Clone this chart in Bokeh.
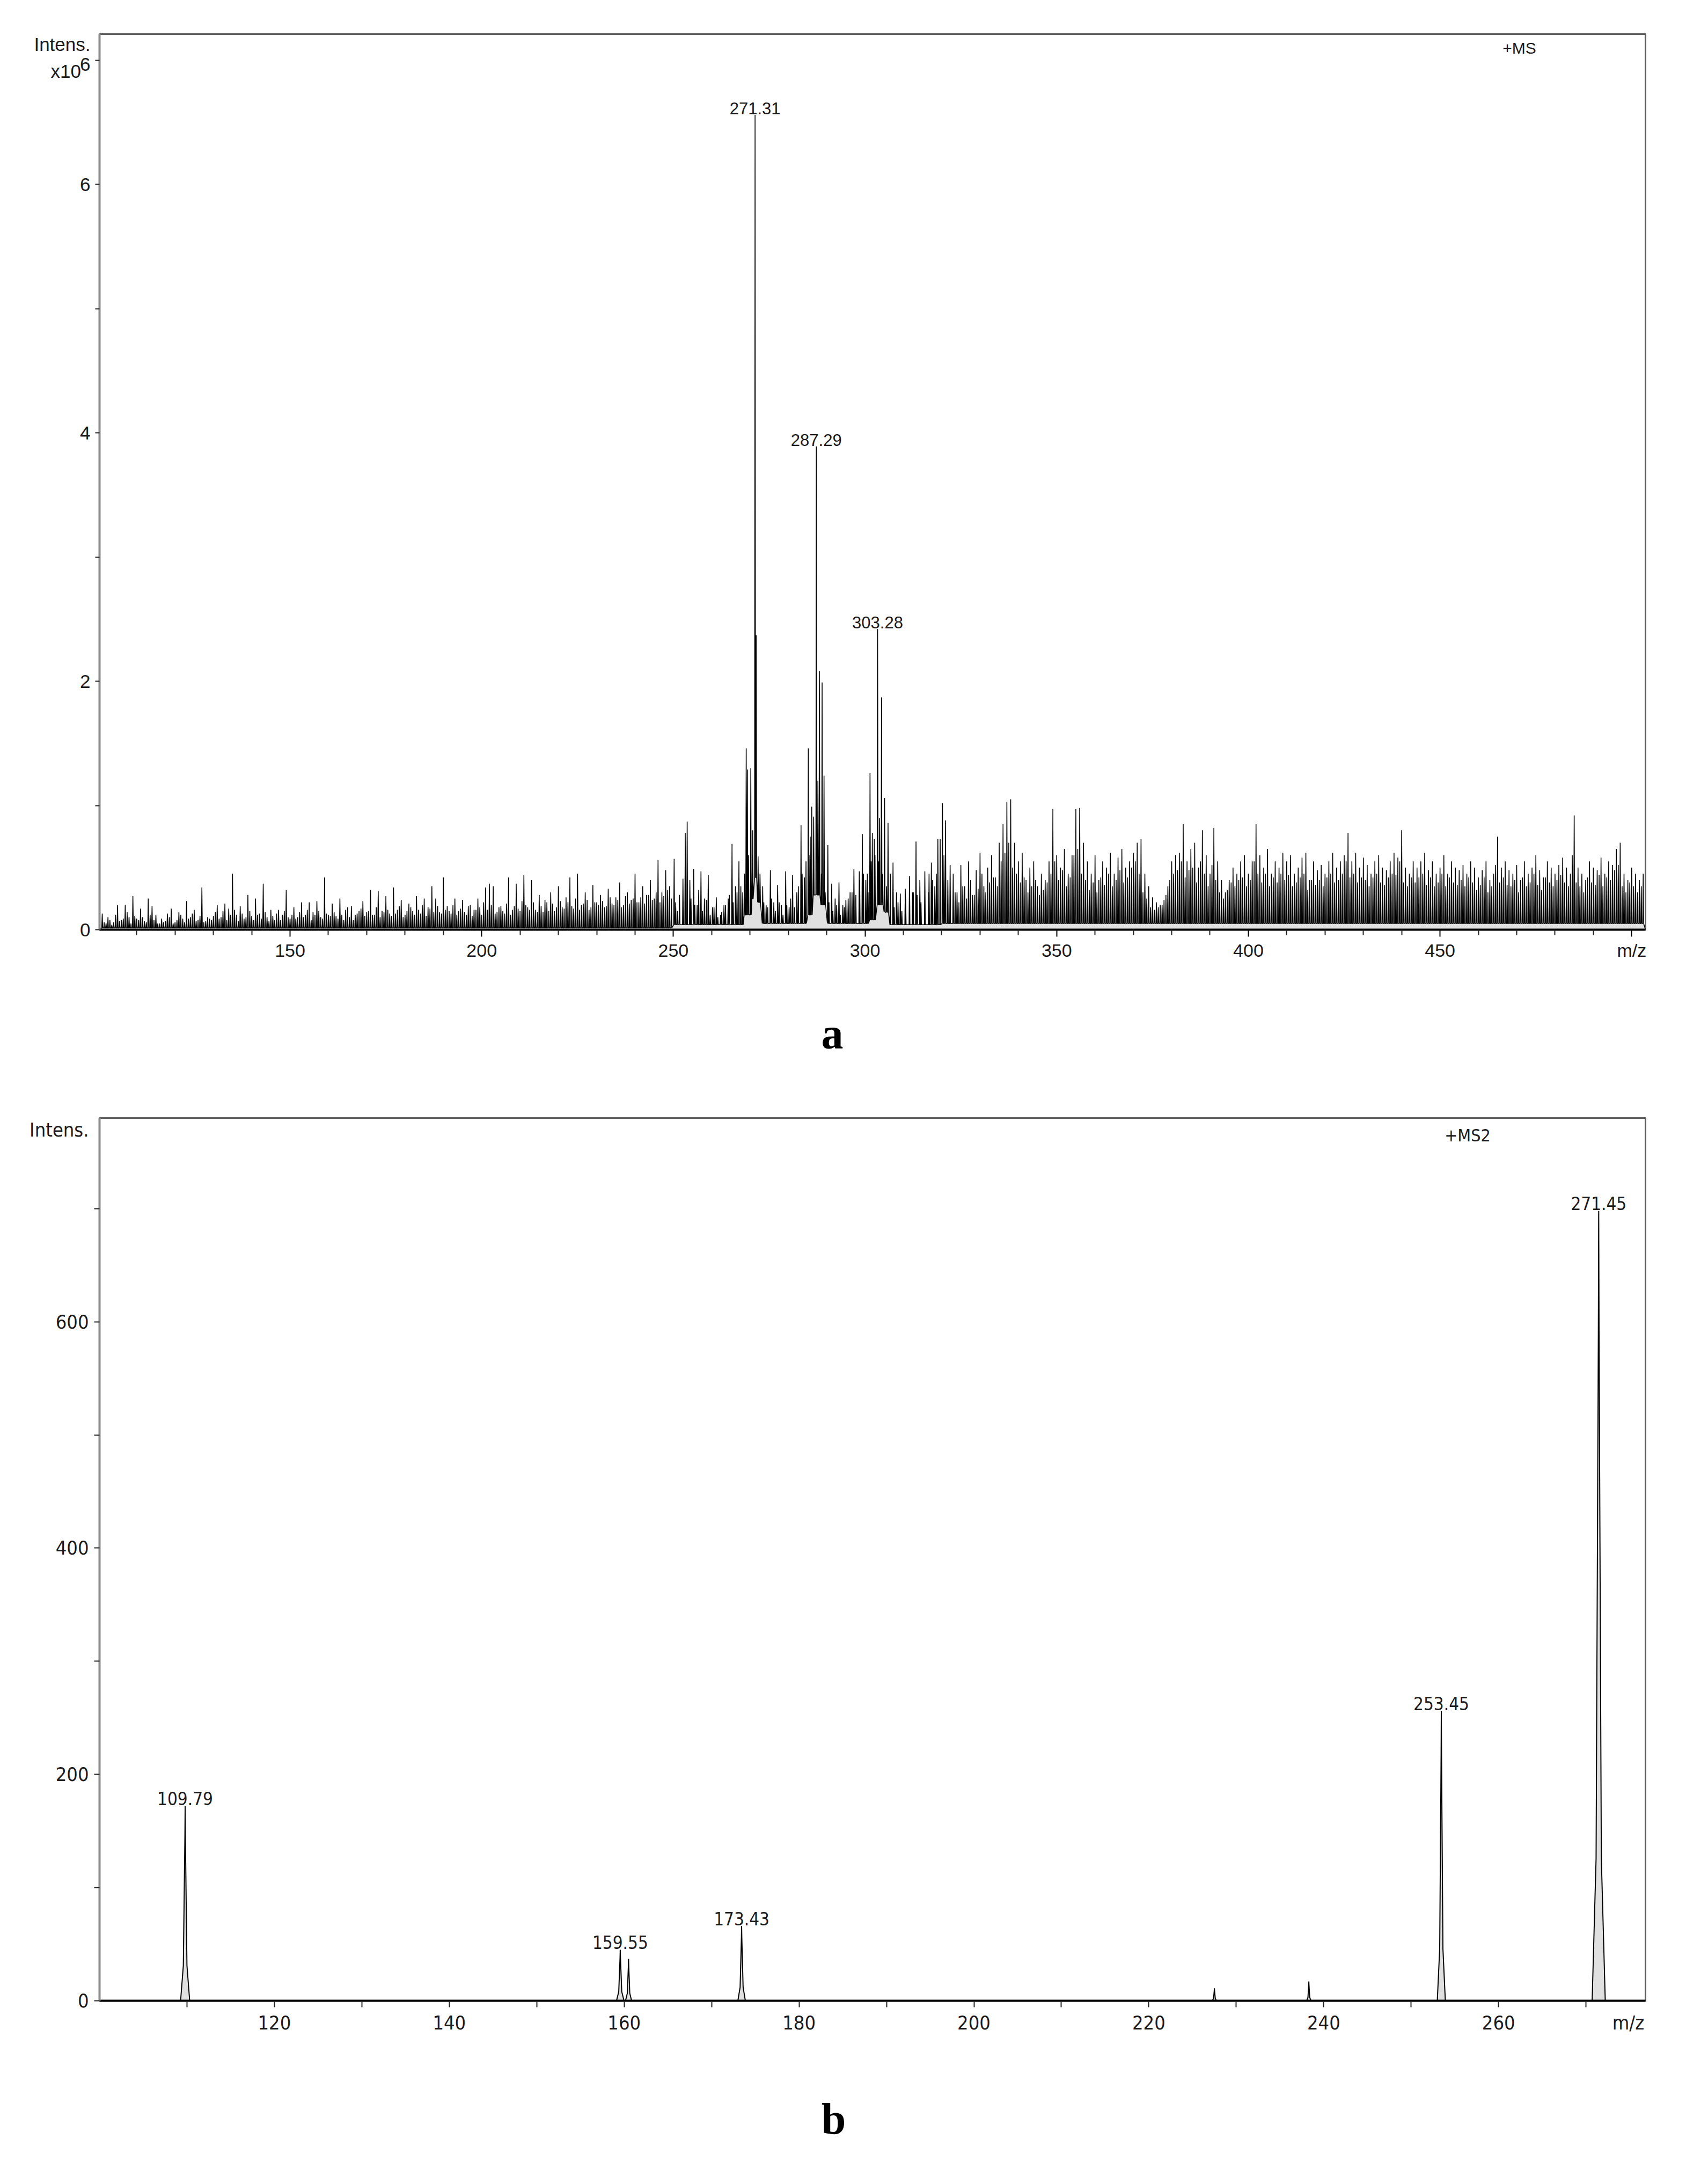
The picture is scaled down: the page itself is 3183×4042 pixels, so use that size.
import numpy as np
from bokeh.plotting import figure
from bokeh.models import Label, FixedTicker, Range1d, LinearAxis
from bokeh.layouts import column
from bokeh.embed import file_html
from bokeh.resources import INLINE

# ---------------- Panel a : +MS full scan (intensity x10^6) ----------------
a_peak_mz = [271.31, 287.29, 303.28]
a_peak_int = [6.56, 3.89, 2.42]

# sticks around the main cluster (m/z 250-322)
a_cluster_mz = [250.2, 251.1, 252.5, 253.1, 253.6, 254.3, 255.3, 256.2, 257.2, 258.1,
                259.1, 260.2, 261.2, 262.3, 263.2, 264.3, 265.3, 266.2, 267.1, 268.1,
                269.0, 269.3, 270.2, 270.7, 271.6, 272.1, 272.6, 273.3, 274.2, 275.3,
                276.2, 277.2, 278.2, 279.3, 280.2, 281.1, 282.2, 283.3, 284.2, 285.2,
                285.7, 286.1, 286.6, 287.7, 288.1, 288.8, 289.3, 290.3, 291.3, 292.2,
                293.2, 294.2, 295.0, 296.1, 297.1, 298.5, 299.3, 300.2, 300.8, 301.3,
                301.9, 302.4, 303.8, 304.3, 305.1, 306.0, 306.6, 307.3, 308.2, 309.2,
                310.5, 311.6, 312.4, 313.3, 314.3, 315.6, 316.7, 317.3, 318.2, 319.0,
                319.6, 320.2, 321.0, 322.2]
a_cluster_int = [0.57, 0.15, 0.41, 0.78, 0.87, 0.40, 0.49, 0.20, 0.47, 0.25,
                 0.44, 0.18, 0.26, 0.12, 0.20, 0.25, 0.69, 0.35, 0.55, 0.30,
                 1.46, 1.29, 1.30, 0.80, 2.37, 0.59, 0.45, 0.35, 0.20, 0.48,
                 0.22, 0.36, 0.20, 0.47, 0.18, 0.44, 0.30, 0.84, 0.42, 1.46,
                 0.75, 0.99, 0.91, 1.20, 2.08, 1.99, 1.24, 0.68, 0.37, 0.25,
                 0.38, 0.20, 0.24, 0.30, 0.49, 0.47, 0.77, 0.40, 0.30, 1.26,
                 0.78, 0.73, 0.90, 1.87, 1.06, 0.86, 0.45, 0.54, 0.30, 0.29,
                 0.33, 0.43, 0.30, 0.71, 0.40, 0.47, 0.45, 0.54, 0.35, 0.73,
                 0.73, 1.02, 0.88, 0.52]
# small sticks between them, at m/z 250.6, 251.6 ... 321.6
a_cluster_fill_start = 250.6
a_cluster_fill = [0.22, 0.28, 0.18, 0.30, 0.25, 0.20, 0.32, 0.15, 0.24, 0.12,
                  0.18, 0.10, 0.14, 0.20, 0.28, 0.22, 0.30, 0.35, 0.45, 0.60,
                  0.60, 0.55, 0.30, 0.22, 0.18, 0.25, 0.15, 0.22, 0.12, 0.20,
                  0.25, 0.18, 0.35, 0.45, 0.55, 0.60, 0.50, 0.60, 0.45, 0.30,
                  0.22, 0.15, 0.20, 0.12, 0.18, 0.25, 0.30, 0.28, 0.40, 0.45,
                  0.45, 0.55, 0.60, 0.55, 0.45, 0.35, 0.25, 0.18, 0.22, 0.15,
                  0.25, 0.20, 0.30, 0.28, 0.22, 0.35, 0.30, 0.40, 0.45, 0.55,
                  0.60, 0.40]

# background sticks at whole m/z, 101 ... 249
a_noise_low_start = 101
a_noise_low = [0.13, 0.05, 0.08, 0.06, 0.20, 0.08, 0.20, 0.10, 0.27, 0.09,
               0.17, 0.07, 0.25, 0.19, 0.12, 0.05, 0.06, 0.13, 0.17, 0.06,
               0.14, 0.09, 0.23, 0.10, 0.16, 0.08, 0.34, 0.07, 0.09, 0.11,
               0.20, 0.10, 0.21, 0.17, 0.45, 0.12, 0.19, 0.09, 0.28, 0.11,
               0.25, 0.13, 0.37, 0.10, 0.16, 0.08, 0.16, 0.12, 0.32, 0.09,
               0.18, 0.10, 0.22, 0.12, 0.22, 0.14, 0.23, 0.10, 0.42, 0.12,
               0.21, 0.11, 0.25, 0.08, 0.18, 0.19, 0.12, 0.15, 0.23, 0.14,
               0.32, 0.12, 0.31, 0.15, 0.27, 0.13, 0.34, 0.16, 0.24, 0.12,
               0.21, 0.15, 0.27, 0.13, 0.25, 0.18, 0.35, 0.25, 0.14, 0.42,
               0.19, 0.13, 0.25, 0.15, 0.24, 0.12, 0.20, 0.16, 0.25, 0.12,
               0.34, 0.37, 0.35, 0.14, 0.19, 0.13, 0.42, 0.16, 0.37, 0.15,
               0.44, 0.18, 0.40, 0.16, 0.28, 0.14, 0.22, 0.30, 0.15, 0.35,
               0.18, 0.26, 0.42, 0.17, 0.45, 0.20, 0.30, 0.16, 0.36, 0.22,
               0.28, 0.18, 0.33, 0.21, 0.26, 0.38, 0.20, 0.30, 0.24, 0.45,
               0.22, 0.35, 0.28, 0.40, 0.25, 0.56, 0.30, 0.48, 0.35]
# background sticks at half m/z, 101.5 ... 249.5
a_noise_low_half = [0.06, 0.10, 0.04, 0.12, 0.07, 0.09, 0.14, 0.05, 0.11, 0.08,
                    0.10, 0.06, 0.12, 0.08, 0.05, 0.09, 0.07, 0.10, 0.05, 0.08,
                    0.12, 0.06, 0.09, 0.13, 0.07, 0.11, 0.06, 0.10, 0.08, 0.14,
                    0.09, 0.15, 0.08, 0.12, 0.16, 0.07, 0.13, 0.10, 0.15, 0.08,
                    0.12, 0.09, 0.14, 0.07, 0.11, 0.13, 0.08, 0.15, 0.10, 0.12,
                    0.09, 0.14, 0.10, 0.16, 0.08, 0.12, 0.15, 0.09, 0.13, 0.11,
                    0.14, 0.09, 0.12, 0.16, 0.10, 0.08, 0.13, 0.17, 0.11, 0.15,
                    0.12, 0.18, 0.10, 0.14, 0.16, 0.11, 0.13, 0.19, 0.10, 0.15,
                    0.18, 0.12, 0.16, 0.20, 0.11, 0.17, 0.14, 0.19, 0.13, 0.16,
                    0.15, 0.20, 0.12, 0.17, 0.14, 0.19, 0.11, 0.16, 0.18, 0.22,
                    0.16, 0.20, 0.13, 0.18, 0.15, 0.21, 0.12, 0.19, 0.17, 0.23,
                    0.20, 0.16, 0.22, 0.14, 0.19, 0.24, 0.15, 0.21, 0.18, 0.23,
                    0.17, 0.22, 0.19, 0.25, 0.16, 0.21, 0.24, 0.18, 0.22, 0.20,
                    0.23, 0.19, 0.26, 0.20, 0.24, 0.18, 0.27, 0.21, 0.25, 0.22,
                    0.26, 0.21, 0.28, 0.24, 0.30, 0.22, 0.27, 0.32, 0.25]

# background sticks at whole m/z, 323 ... 503
a_noise_high_start = 323
a_noise_high = [0.45, 0.30, 0.52, 0.35, 0.55, 0.28, 0.48, 0.62, 0.35, 0.50,
                0.60, 0.42, 0.70, 0.85, 1.03, 1.05, 0.70, 0.55, 0.62, 0.40,
                0.50, 0.55, 0.35, 0.45, 0.40, 0.55, 0.97, 0.60, 0.50, 0.65,
                0.45, 0.60, 0.97, 0.98, 0.70, 0.55, 0.45, 0.60, 0.40, 0.55,
                0.50, 0.62, 0.45, 0.58, 0.65, 0.50, 0.55, 0.62, 0.70, 0.73,
                0.45, 0.35, 0.26, 0.22, 0.20, 0.24, 0.35, 0.55, 0.60, 0.62,
                0.85, 0.55, 0.65, 0.70, 0.50, 0.80, 0.60, 0.45, 0.82, 0.55,
                0.40, 0.30, 0.40, 0.50, 0.45, 0.55, 0.60, 0.45, 0.55, 0.85,
                0.60, 0.50, 0.65, 0.45, 0.55, 0.50, 0.62, 0.55, 0.60, 0.45,
                0.50, 0.58, 0.62, 0.40, 0.55, 0.48, 0.52, 0.45, 0.55, 0.62,
                0.50, 0.55, 0.60, 0.78, 0.55, 0.62, 0.50, 0.58, 0.52, 0.45,
                0.55, 0.60, 0.50, 0.48, 0.55, 0.62, 0.58, 0.80, 0.50, 0.45,
                0.55, 0.50, 0.55, 0.62, 0.48, 0.55, 0.45, 0.50, 0.60, 0.45,
                0.55, 0.50, 0.48, 0.52, 0.45, 0.55, 0.50, 0.42, 0.48, 0.55,
                0.40, 0.45, 0.75, 0.50, 0.55, 0.48, 0.45, 0.52, 0.40, 0.55,
                0.45, 0.50, 0.60, 0.48, 0.42, 0.55, 0.50, 0.45, 0.52, 0.58,
                0.50, 0.45, 0.92, 0.50, 0.45, 0.40, 0.55, 0.50, 0.48, 0.58,
                0.45, 0.55, 0.52, 0.65, 0.70, 0.45, 0.40, 0.50, 0.45, 0.40,
                0.45]
# background sticks at half m/z, 323.5 ... 502.5
a_noise_high_half = [0.30, 0.22, 0.35, 0.25, 0.40, 0.28, 0.33, 0.45, 0.30, 0.38,
                     0.42, 0.35, 0.55, 0.62, 0.70, 0.50, 0.45, 0.38, 0.42, 0.30,
                     0.35, 0.40, 0.28, 0.32, 0.38, 0.45, 0.55, 0.40, 0.48, 0.35,
                     0.42, 0.60, 0.65, 0.45, 0.40, 0.32, 0.38, 0.30, 0.42, 0.36,
                     0.45, 0.35, 0.40, 0.48, 0.38, 0.42, 0.50, 0.55, 0.45, 0.30,
                     0.25, 0.18, 0.16, 0.18, 0.20, 0.28, 0.40, 0.45, 0.48, 0.55,
                     0.42, 0.48, 0.50, 0.38, 0.55, 0.45, 0.35, 0.52, 0.40, 0.30,
                     0.25, 0.32, 0.38, 0.35, 0.40, 0.42, 0.35, 0.40, 0.55, 0.45,
                     0.38, 0.45, 0.35, 0.42, 0.38, 0.45, 0.40, 0.44, 0.35, 0.38,
                     0.42, 0.45, 0.32, 0.40, 0.36, 0.40, 0.35, 0.42, 0.45, 0.38,
                     0.40, 0.45, 0.55, 0.42, 0.45, 0.38, 0.42, 0.40, 0.35, 0.42,
                     0.45, 0.38, 0.36, 0.42, 0.45, 0.44, 0.55, 0.38, 0.35, 0.42,
                     0.38, 0.42, 0.45, 0.36, 0.42, 0.35, 0.38, 0.45, 0.35, 0.42,
                     0.38, 0.36, 0.40, 0.35, 0.42, 0.38, 0.32, 0.36, 0.42, 0.30,
                     0.35, 0.52, 0.38, 0.42, 0.36, 0.35, 0.40, 0.30, 0.42, 0.35,
                     0.38, 0.45, 0.36, 0.32, 0.42, 0.38, 0.35, 0.40, 0.44, 0.38,
                     0.35, 0.60, 0.38, 0.35, 0.30, 0.42, 0.38, 0.36, 0.44, 0.35,
                     0.42, 0.40, 0.48, 0.52, 0.35, 0.30, 0.38, 0.35, 0.30, 0.35]

# level the trace falls back to between sticks (piecewise)
a_valley_edges = [100, 250, 268.6, 270.3, 271.0, 272.0, 273.2, 285.0, 286.5, 288.5,
                  289.8, 301.0, 302.8, 304.8, 306.5, 320, 505]
a_valley_levels = [0.015, 0.04, 0.12, 0.25, 0.42, 0.22, 0.05, 0.12, 0.28, 0.20,
                   0.05, 0.08, 0.20, 0.14, 0.04, 0.05]

a_y_ticks = [0, 2, 4, 6]
a_x_ticks = [150, 200, 250, 300, 350, 400, 450, 500]

# ---------------- Panel b : +MS2 of m/z 271 ----------------
b_peak_mz = [109.79, 159.55, 173.43, 253.45, 271.45]
b_peak_int = [172, 45, 66, 256, 698]
b_minor_mz = [160.5, 227.5, 238.3]
b_minor_int = [37, 11, 17]

b_x_ticks = [120, 140, 160, 180, 200, 220, 240, 260]
b_y_ticks = [0, 200, 400, 600]

# ---------------- geometry (page pixels, body margin is 0) ----------------
W = 3175
H1, H2 = 2018, 2012
XA0, XA1, YA1 = 100.3, 503.6, 7.21
FA_L, FA_T, FA_W, FA_H = 185, 63, 2882, 1669
XB0, XB1, YB1 = 100.0, 276.8, 780.0
FB_L, FB_T, FB_W, FB_H = 181, 2083, 2885, 1645


def ax(px):
    return XA0 + (px - FA_L) * (XA1 - XA0) / FA_W


def ay(py):
    return (FA_T + FA_H - py) * YA1 / FA_H


def bx(px):
    return XB0 + (px - FB_L) * (XB1 - XB0) / FB_W


def by(py):
    return (FB_T + FB_H - py) * YB1 / FB_H


SANS = "'Liberation Sans', Arial, sans-serif"
NARROW = "'Liberation Sans Narrow', 'Arial Narrow', 'DejaVu Sans Condensed', sans-serif"
SERIF = "'Liberation Serif', 'Times New Roman', serif"


def style_axes(p, font, xsize, ysize):
    p.xgrid.visible = False
    p.ygrid.visible = False
    p.background_fill_color = "white"
    p.border_fill_color = "white"
    p.outline_line_color = "#5f5f5f"
    p.outline_line_width = 3
    xa = p.xaxis[0]
    ya = p.yaxis[0]
    xa.axis_line_color = "black"
    xa.axis_line_width = 4
    ya.axis_line_color = "#8c8c8c"
    ya.axis_line_width = 4
    for a_, s_ in ((xa, xsize), (ya, ysize)):
        a_.major_tick_in = 0
        a_.minor_tick_in = 0
        a_.major_tick_line_color = "black"
        a_.minor_tick_line_color = "#222222"
        a_.major_tick_line_width = 2
        a_.minor_tick_line_width = 2
        a_.major_label_text_font = font
        a_.major_label_text_font_size = s_
        a_.major_label_text_color = "#1a1a1a"


def caption_axis(p, x, text, standoff):
    cap = LinearAxis(ticker=FixedTicker(ticks=[x], minor_ticks=[]),
                     major_label_overrides={x: text},
                     axis_line_color=None, major_tick_line_color=None, minor_tick_line_color=None,
                     major_tick_out=0, minor_tick_out=0, major_tick_in=0, minor_tick_in=0,
                     major_label_standoff=standoff,
                     major_label_text_font=SERIF, major_label_text_font_style="bold",
                     major_label_text_font_size="82px", major_label_text_color="black")
    p.add_layout(cap, "below")


# ---------------- Panel a figure ----------------
pa = figure(width=W, height=H1, x_range=Range1d(XA0, XA1), y_range=Range1d(0, YA1),
            output_backend="svg", toolbar_location=None,
            min_border_left=FA_L, min_border_right=W - FA_L - FA_W,
            min_border_top=FA_T, min_border_bottom=H1 - FA_T - FA_H)
style_axes(pa, SANS, "34px", "35px")
xa_a = pa.xaxis[0]
xa_a.ticker = FixedTicker(ticks=a_x_ticks, minor_ticks=[v for v in range(110, 500, 10) if v % 50])
xa_a.major_label_overrides = {500: "m/z"}
xa_a.major_tick_out = 13
xa_a.minor_tick_out = 10
xa_a.major_label_standoff = 6
ya_a = pa.yaxis[0]
y_int_a, y_x10_a, y_exp_a = ay(82), ay(132), ay(119)
ya_a.ticker = FixedTicker(ticks=a_y_ticks + [y_x10_a, y_exp_a, y_int_a], minor_ticks=list(range(0, 8)))
ya_a.major_label_overrides = {y_x10_a: "x10\u2002", y_exp_a: "6", y_int_a: "Intens."}
ya_a.major_tick_out = 0
ya_a.minor_tick_out = 8
ya_a.major_label_standoff = 9

# assemble sticks
mz_all = list(a_peak_mz) + list(a_cluster_mz) \
    + [a_cluster_fill_start + i for i in range(len(a_cluster_fill))] \
    + [a_noise_low_start + i for i in range(len(a_noise_low))] \
    + [a_noise_low_start + 0.5 + i for i in range(len(a_noise_low_half))] \
    + [a_noise_high_start + i for i in range(len(a_noise_high))] \
    + [a_noise_high_start + 0.5 + i for i in range(len(a_noise_high_half))]
int_all = list(a_peak_int) + list(a_cluster_int) + list(a_cluster_fill) \
    + list(a_noise_low) + list(a_noise_low_half) \
    + list(a_noise_high) + list(a_noise_high_half)
order = np.argsort(mz_all, kind="stable")
hw = 0.12
xs, ys = [XA0], [0.0]
for i in order:
    m, h = mz_all[i], int_all[i]
    k = int(np.searchsorted(a_valley_edges, m, side="right") - 1)
    v = a_valley_levels[k]
    xs += [m - hw, m, m + hw]
    ys += [v, h, v]
xs.append(XA1)
ys.append(0.0)
pa.varea(x=xs, y1=np.zeros(len(xs)), y2=ys, fill_color="#e0e0e0")
pa.line(xs, ys, line_color="black", line_width=1.55)

px_a = YA1 / FA_H
for m, h in zip(a_peak_mz, a_peak_int):
    pa.add_layout(Label(x=m, y=h + 12 * px_a, text=f"{m:.2f}", text_align="center",
                        text_baseline="alphabetic", text_font=SANS, text_font_size="31px",
                        text_color="#1a1a1a"))
pa.add_layout(Label(x=ax(2832), y=ay(89), text="+MS", text_align="center", text_baseline="middle",
                    text_font=SANS, text_font_size="30px", text_color="#1a1a1a"))
caption_axis(pa, ax(1551), "a", 88)

# ---------------- Panel b figure ----------------
pb = figure(width=W, height=H2, x_range=Range1d(XB0, XB1), y_range=Range1d(0, YB1),
            output_backend="svg", toolbar_location=None,
            min_border_left=FB_L, min_border_right=W - FB_L - FB_W,
            min_border_top=FB_T - H1, min_border_bottom=H2 - (FB_T - H1) - FB_H)
style_axes(pb, NARROW, "36px", "36px")
xa_b = pb.xaxis[0]
x_mz_b = bx(3034)
xa_b.ticker = FixedTicker(ticks=b_x_ticks + [x_mz_b], minor_ticks=list(range(110, 280, 10)))
xa_b.major_label_overrides = {x_mz_b: "m/z"}
xa_b.major_tick_out = 0
xa_b.minor_tick_out = 12
xa_b.major_label_standoff = 8
ya_b = pb.yaxis[0]
y_int_b = by(2105)
ya_b.ticker = FixedTicker(ticks=b_y_ticks + [y_int_b], minor_ticks=list(range(0, 800, 100)))
ya_b.major_label_overrides = {y_int_b: "Intens."}
ya_b.major_tick_out = 0
ya_b.minor_tick_out = 10
ya_b.major_label_standoff = 10

b_hw = {109.79: 0.52, 159.55: 0.43, 173.43: 0.43, 253.45: 0.46, 271.45: 0.75,
        160.5: 0.35, 227.5: 0.25, 238.3: 0.25}
pk = sorted(list(zip(b_peak_mz, b_peak_int)) + list(zip(b_minor_mz, b_minor_int)))
bxs, bys = [XB0], [0.0]
for m, h in pk:
    w = b_hw[m]
    bxs += [m - w, m - 0.4 * w, m - 0.05 * w, m, m + 0.05 * w, m + 0.4 * w, m + w]
    bys += [0.0, 0.18 * h, 0.85 * h, h, 0.85 * h, 0.18 * h, 0.0]
bxs.append(XB1)
bys.append(0.0)
pb.varea(x=bxs, y1=np.zeros(len(bxs)), y2=bys, fill_color="#e0e0e0")
pb.line(bxs, bys, line_color="black", line_width=2)

px_b = YB1 / FB_H
for m, h in zip(b_peak_mz, b_peak_int):
    pb.add_layout(Label(x=m, y=h + 14 * px_b, text=f"{m:.2f}", text_align="center",
                        text_baseline="alphabetic", text_font=NARROW, text_font_size="33px",
                        text_color="#1a1a1a"))
pb.add_layout(Label(x=bx(2734), y=by(2115), text="+MS2", text_align="center", text_baseline="middle",
                    text_font=NARROW, text_font_size="32px", text_color="#1a1a1a"))
caption_axis(pb, bx(1551), "b", 110)

layout = column(pa, pb)
open("out.html", "w").write(file_html(layout, INLINE))
